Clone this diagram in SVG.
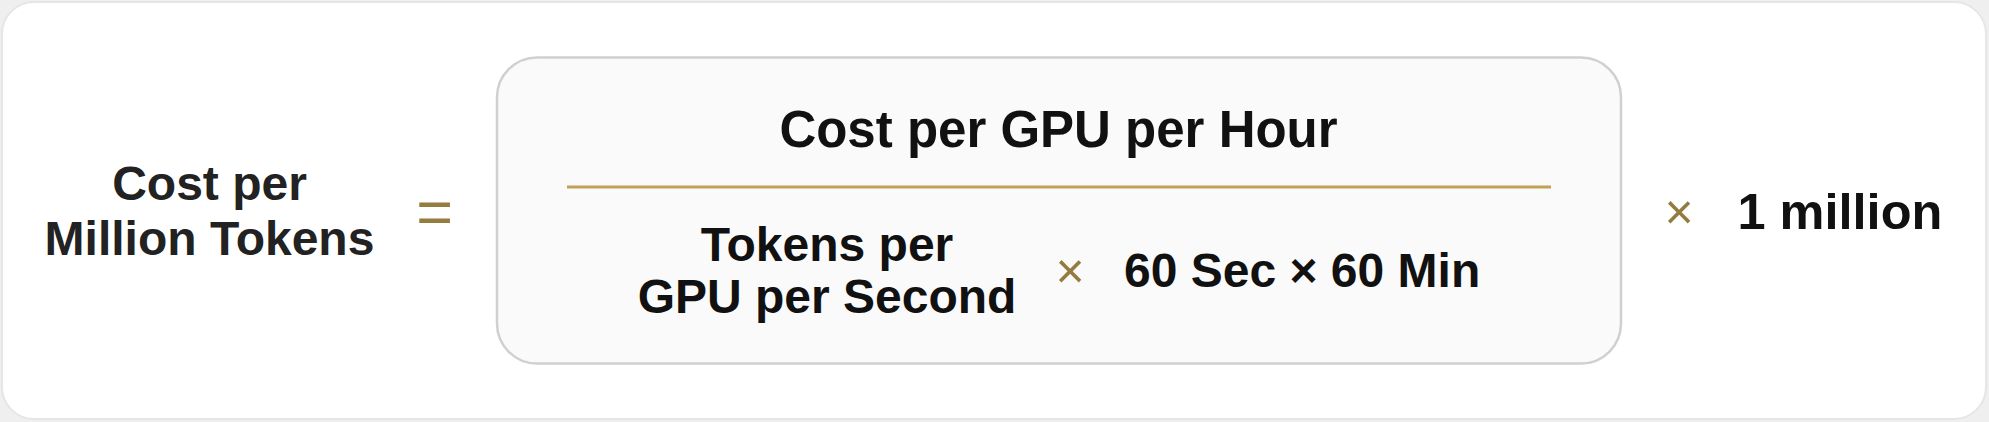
<svg xmlns="http://www.w3.org/2000/svg" width="1989" height="422" viewBox="0 0 1989 422">
<style>
.t{font-family:"Liberation Sans",Arial,sans-serif;font-weight:bold;fill:#111111;}
.l{fill:#222222;}
.op{font-family:"Liberation Sans",Arial,sans-serif;font-weight:normal;fill:#937c3e;}
</style>
<rect x="0" y="0" width="1989" height="422" fill="#efefef"/>
<rect x="2" y="2" width="1984" height="417" rx="32" ry="32" fill="#ffffff" stroke="#e6e6e6" stroke-width="2"/>
<g id="lhs">
<text class="t l" x="209.5" y="200" font-size="48" text-anchor="middle">Cost per</text>
<text class="t l" x="209.5" y="255" font-size="48" text-anchor="middle">Million Tokens</text>
</g>
<g id="equals">
<text class="op" x="434.7" y="234" font-size="63" text-anchor="middle">=</text>
</g>
<g id="fraction">
<rect x="497" y="57.5" width="1124" height="306" rx="40" ry="40" fill="#fafafa" stroke="#d0d0d0" stroke-width="2.5"/>
<text class="t" x="1058.5" y="147" font-size="51" text-anchor="middle">Cost per GPU per Hour</text>
<line x1="567" y1="187" x2="1551" y2="187" stroke="#c0a157" stroke-width="3"/>
<text class="t" x="827" y="260.7" font-size="48" text-anchor="middle">Tokens per</text>
<text class="t" x="827" y="313.3" font-size="48" text-anchor="middle">GPU per Second</text>
<text class="op" x="1070" y="288" font-size="50" text-anchor="middle">×</text>
<text class="t" x="1124" y="287.3" font-size="48">60 Sec × 60 Min</text>
</g>
<g id="rhs">
<text class="op" x="1679" y="229" font-size="50" text-anchor="middle">×</text>
<text class="t" x="1737.5" y="229.3" font-size="50.5">1 million</text>
</g>
<g id="connectors"></g>
</svg>
